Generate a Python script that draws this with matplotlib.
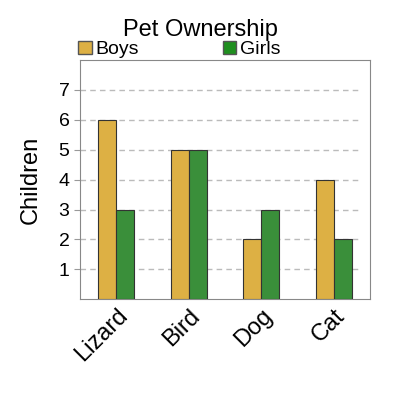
import matplotlib.pyplot as plt
import numpy as np
from matplotlib.patches import Patch

plt.rcParams['font.family'] = ['Liberation Sans', 'DejaVu Sans']

pets = ['Lizard', 'Bird', 'Dog', 'Cat']
boys = [6, 5, 2, 4]
girls = [3, 5, 3, 2]

boy_color = '#ddb044'
girl_color = '#3a8f3a'

fig = plt.figure(figsize=(4, 4), dpi=100)
ax = fig.add_axes([0.2, 0.252, 0.725, 0.598])

x = np.arange(len(pets))
w = 0.25
ax.bar(x - w/2, boys, w, color=boy_color, edgecolor='#333333', linewidth=0.8, zorder=3)
ax.bar(x + w/2, girls, w, color=girl_color, edgecolor='#333333', linewidth=0.8, zorder=3)

for yv in range(1, 8):
    ax.axhline(yv, xmin=0, xmax=0.97, color='#bbbbbb', linestyle=(0, (4, 3)),
               linewidth=1, zorder=1)

ax.set_xlim(-0.5, 3.5)
ax.set_ylim(0, 8)
ax.set_yticks(range(1, 8))
ax.set_xticks(x)
ax.set_xticklabels(pets, rotation=45, ha='right', rotation_mode='anchor', fontsize=17)
ax.tick_params(axis='y', labelsize=14, length=4, color='#999999')
ax.tick_params(axis='x', length=0, pad=4)
for s in ax.spines.values():
    s.set_color('#888888')
ax.set_ylabel('Children', fontsize=17, labelpad=12)

fig.text(0.5, 0.925, 'Pet Ownership', ha='center', va='center', fontsize=17)
handles = [Patch(facecolor=boy_color, edgecolor='#555555', label='Boys'),
           Patch(facecolor='#1f8f1f', edgecolor='#555555', label='Girls')]
fig.legend(handles=handles, loc='center left', bbox_to_anchor=(0.195, 0.876), ncol=2,
           frameon=False, fontsize=14, handlelength=0.7, handleheight=0.7,
           handletextpad=0.2, columnspacing=4.3, borderaxespad=0, borderpad=0)

fig.savefig('out.png', dpi=100)
